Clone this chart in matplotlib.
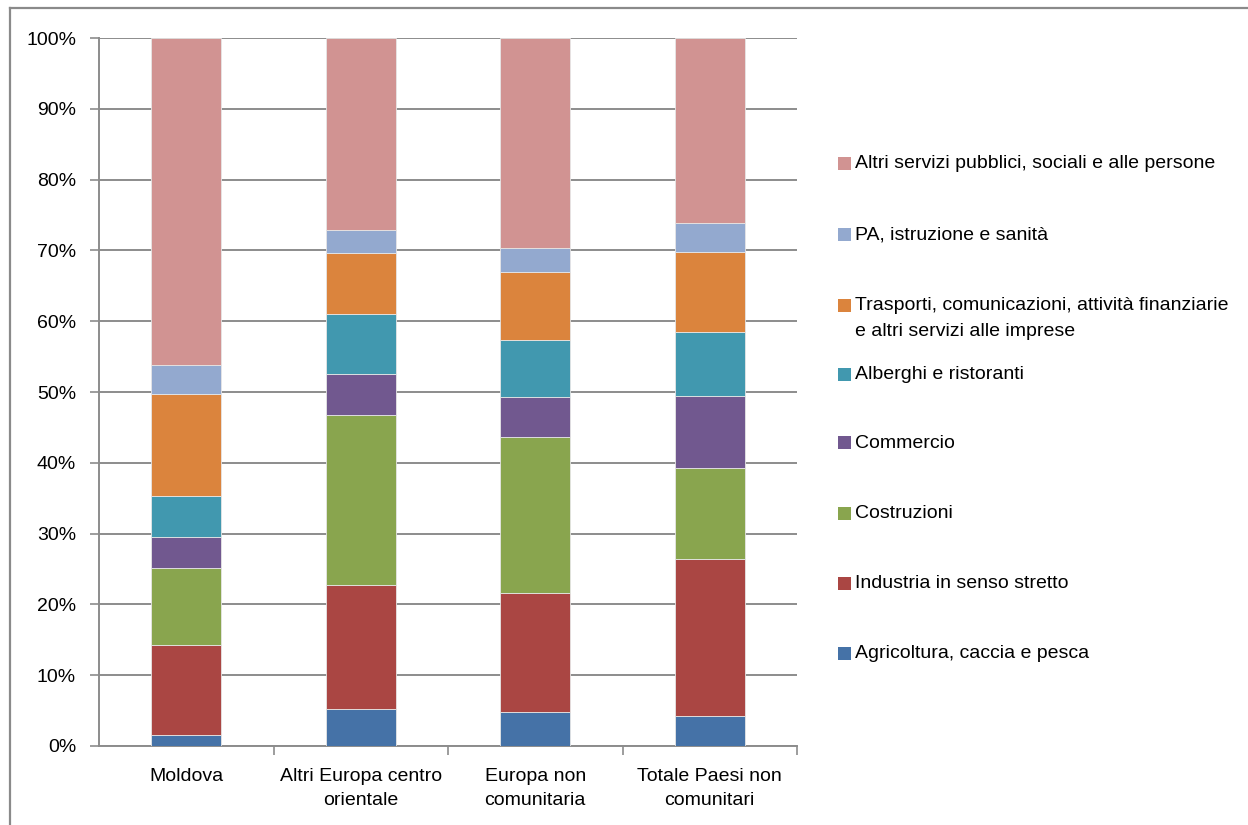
import matplotlib
matplotlib.use("Agg")
import matplotlib.pyplot as plt
from matplotlib.patches import Rectangle
from matplotlib.lines import Line2D
from matplotlib.ticker import PercentFormatter, FixedLocator
import numpy as np

plt.rcParams['font.family'] = ['Liberation Sans', 'DejaVu Sans']

categories = ["Moldova", "Altri Europa centro\norientale",
              "Europa non\ncomunitaria", "Totale Paesi non\ncomunitari"]

sectors = [
    "Agricoltura, caccia e pesca",
    "Industria in senso stretto",
    "Costruzioni",
    "Commercio",
    "Alberghi e ristoranti",
    "Trasporti, comunicazioni, attività finanziarie\ne altri servizi alle imprese",
    "PA, istruzione e sanità",
    "Altri servizi pubblici, sociali e alle persone",
]

agricoltura = [1.5, 5.2, 4.75, 4.2]
industria = [12.7, 17.5, 16.85, 22.2]
costruzioni = [10.9, 24.0, 22.1, 12.9]
commercio = [4.4, 5.9, 5.6, 10.2]
alberghi = [5.8, 8.4, 8.1, 9.0]
trasporti = [14.4, 8.6, 9.6, 11.3]
pa = [4.1, 3.3, 3.4, 4.0]
altri_servizi = [46.2, 27.1, 29.6, 26.2]

series = [agricoltura, industria, costruzioni, commercio,
          alberghi, trasporti, pa, altri_servizi]
colors = ["#4572A7", "#AA4643", "#89A54E", "#71588F",
          "#4198AF", "#DB843D", "#93A9CF", "#D19392"]

FS = 14

W, H = 1248, 825
fig = plt.figure(figsize=(W / 100, H / 100), dpi=100)
fig.patch.set_facecolor("white")

# outer chart frame (only left and top edges fall inside the canvas)
fig.add_artist(Line2D([10 / W, 10 / W], [0, 1 - 8 / H], color="#8a8a8a", lw=1.6,
                      transform=fig.transFigure))
fig.add_artist(Line2D([10 / W, 1], [1 - 8 / H, 1 - 8 / H], color="#8a8a8a", lw=1.6,
                      transform=fig.transFigure))

left, right, bottom, top = 99, 797, 746, 38
ax = fig.add_axes([left / W, 1 - bottom / H, (right - left) / W, (bottom - top) / H])

x = np.arange(len(categories))
base = np.zeros(len(categories))
for vals, col, name in zip(series, colors, sectors):
    v = np.array(vals) / 100.0
    ax.bar(x, v, bottom=base, width=0.4, color=col, edgecolor="#e6e6e6",
           linewidth=0.6, label=name, zorder=3)
    base += v

ax.set_xlim(-0.5, len(categories) - 0.5)
ax.set_ylim(0, 1)
ax.yaxis.set_major_locator(FixedLocator(np.linspace(0, 1, 11)))
ax.yaxis.set_major_formatter(PercentFormatter(1.0, decimals=0))
ax.grid(axis="y", color="#8c8c8c", linewidth=1.4, zorder=0)
ax.set_axisbelow(True)

for s in ["top", "right"]:
    ax.spines[s].set_visible(False)
for s in ["left", "bottom"]:
    ax.spines[s].set_color("#8c8c8c")
    ax.spines[s].set_linewidth(1.4)

ax.set_xticks(x)
ax.set_xticklabels(categories, fontsize=FS, linespacing=1.5)
ax.set_xticks(np.arange(len(categories)) + 0.5, minor=True)
ax.tick_params(axis="x", which="major", length=0, pad=16)
ax.tick_params(axis="x", which="minor", length=6.5, width=1.2, color="#8c8c8c")
ax.tick_params(axis="y", length=6.5, width=1.2, color="#8c8c8c", pad=10,
               labelsize=FS)

# legend drawn in pixel coordinates, top entry first
legend_rows = [163, 234, 305, 374, 443, 513, 583, 653]
for row, name, col in zip(legend_rows, reversed(sectors), reversed(colors)):
    fig.add_artist(Rectangle(((838) / W, 1 - (row + 6.5) / H), 13 / W, 13 / H,
                             facecolor=col, edgecolor="none",
                             transform=fig.transFigure))
    fig.text(855 / W, 1 - (row - 8) / H, name, fontsize=FS, va="top",
             ha="left", linespacing=1.7)

fig.savefig("out.png", dpi=100)
